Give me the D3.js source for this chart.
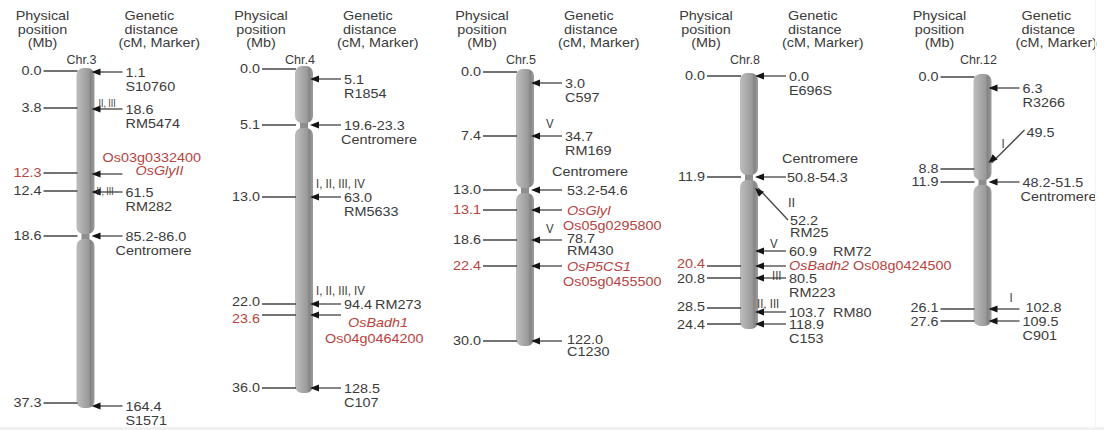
<!DOCTYPE html>
<html>
<head>
<meta charset="utf-8">
<script src="https://cdn.jsdelivr.net/npm/d3@7"></script>
<style>
  body { margin: 0; background: #ffffff; }
  svg { display: block; font-family: "Liberation Sans", Arial, Helvetica, sans-serif; }
</style>
</head>
<body>
<svg id="chart" width="1104" height="430"></svg>
<script>
// ---------------- data ----------------
const chromosomes = ["Chr.3", "Chr.4", "Chr.5", "Chr.8", "Chr.12"];

// physical positions (Mb) marked on the left of each chromosome
const chr3Mb  = [0.0, 3.8, 12.3, 12.4, 18.6, 37.3];
const chr4Mb  = [0.0, 5.1, 13.0, 22.0, 23.6, 36.0];
const chr5Mb  = [0.0, 7.4, 13.0, 13.1, 18.6, 22.4, 30.0];
const chr8Mb  = [0.0, 11.9, 20.4, 20.8, 28.5, 24.4];
const chr12Mb = [0.0, 8.8, 11.9, 26.1, 27.6];

// physical positions of the candidate genes
const chr3GeneMb  = [12.3];
const chr4GeneMb  = [23.6];
const chr5GeneMb  = [13.1, 22.4];
const chr8GeneMb  = [20.4];
const chr12GeneMb = [];

// genetic map loci on the right: distance (cM), marker, QTL, or candidate gene
const chr3Loci = [
  { cM: "1.1", marker: "S10760" },
  { cM: "18.6", marker: "RM5474", qtl: "II, III" },
  { gene: "OsGlyII", geneId: "Os03g0332400" },
  { cM: "61.5", marker: "RM282", qtl: "II, III" },
  { cM: "85.2-86.0", marker: "Centromere" },
  { cM: "164.4", marker: "S1571" }
];
const chr4Loci = [
  { cM: "5.1", marker: "R1854" },
  { cM: "19.6-23.3", marker: "Centromere" },
  { cM: "63.0", marker: "RM5633", qtl: "I, II, III, IV" },
  { cM: "94.4", marker: "RM273", qtl: "I, II, III, IV" },
  { gene: "OsBadh1", geneId: "Os04g0464200" },
  { cM: "128.5", marker: "C107" }
];
const chr5Loci = [
  { cM: "3.0", marker: "C597" },
  { cM: "34.7", marker: "RM169", qtl: "V" },
  { cM: "53.2-54.6", marker: "Centromere" },
  { gene: "OsGlyI", geneId: "Os05g0295800" },
  { cM: "78.7", marker: "RM430", qtl: "V" },
  { gene: "OsP5CS1", geneId: "Os05g0455500" },
  { cM: "122.0", marker: "C1230" }
];
const chr8Loci = [
  { cM: "0.0", marker: "E696S" },
  { cM: "50.8-54.3", marker: "Centromere" },
  { cM: "52.2", marker: "RM25", qtl: "II" },
  { cM: "60.9", marker: "RM72", qtl: "V" },
  { gene: "OsBadh2", geneId: "Os08g0424500" },
  { cM: "80.5", marker: "RM223", qtl: "III" },
  { cM: "103.7", marker: "RM80", qtl: "II, III" },
  { cM: "118.9", marker: "C153" }
];
const chr12Loci = [
  { cM: "6.3", marker: "R3266" },
  { cM: "49.5", qtl: "I" },
  { cM: "48.2-51.5", marker: "Centromere" },
  { cM: "102.8", qtl: "I" },
  { cM: "109.5", marker: "C901" }
];

const headerPhysical = ["Physical", "position", "(Mb)"];
const headerGenetic  = ["Genetic", "distance", "(cM, Marker)"];

// ---------------- layout ----------------
// the map is schematic: each row has its own drawing slot along the chromosome
const centreX = { "Chr.3": 85.5, "Chr.4": 304, "Chr.5": 525, "Chr.8": 749, "Chr.12": 982.5 };

const tickSlots = {
  "Chr.3":  [71, 108, 173, 191, 236, 403],
  "Chr.4":  [69, 125, 197, 304, 315, 388],
  "Chr.5":  [72, 136, 190, 210, 240, 266, 341],
  "Chr.8":  [76, 177, 266, 278, 308, 324],
  "Chr.12": [77, 169, 182, 309, 321]
};
// baseline shift of tick labels where neighbouring rows crowd each other
const tickLabelShift = {
  "Chr.3":  [4, 4, 4, 4, 4, 4],
  "Chr.4":  [4, 4, 4, 2, 8, 4],
  "Chr.5":  [4, 4, 4, 4, 4, 4, 4],
  "Chr.8":  [4, 4, 2, 5, 3, 5],
  "Chr.12": [4, 4, 4, 3, 5]
};
// label arrangement per locus: form, arrow slot, optional QTL offset/size, diagonal tail
const locusSlots = {
  "Chr.3": [
    { y: 72,  form: "stack" },
    { y: 109, form: "stack", qdx: 13, qdy: -2, qs: 11 },
    { y: 174, form: "geneAbove" },
    { y: 192, form: "stack", qdx: 11, qdy: 3, qs: 11 },
    { y: 236, form: "centBelow", cdx: -10 },
    { y: 406, form: "stack" }
  ],
  "Chr.4": [
    { y: 79,  form: "stack" },
    { y: 125, form: "centBelow", cdx: -3 },
    { y: 197, form: "stack", qdx: 12, qdy: -9 },
    { y: 304, form: "inline", gap: 31, qdx: 12, qdy: -9 },
    { y: 315, form: "geneBelow" },
    { y: 388, form: "stack" }
  ],
  "Chr.5": [
    { y: 83,  form: "stack" },
    { y: 136, form: "stack", qdx: 21, qdy: -8 },
    { y: 190, form: "centAbove", cdx: -13, rdx: 2 },
    { y: 210, form: "geneStack" },
    { y: 240, form: "stackTight", qdx: 21, qdy: -7 },
    { y: 266, form: "geneStack" },
    { y: 341, form: "stackTight" }
  ],
  "Chr.8": [
    { y: 76,  form: "stack" },
    { y: 177, form: "centAbove", cdx: -7, rdx: -2 },
    { y: 188, form: "diagStack", tx: 39, ty: 220 },
    { y: 251, form: "inline", gap: 44, qdx: 21, qdy: -3 },
    { y: 266, form: "geneInline" },
    { y: 278, form: "stack", qdx: 23, qdy: 2 },
    { y: 312, form: "inline", gap: 44, qdx: 8, qdy: -4 },
    { y: 324, form: "stack" }
  ],
  "Chr.12": [
    { y: 88,  form: "stack" },
    { y: 163, form: "diagSingle", tx: 42, ty: 130, qdx: 19, qdy: -15 },
    { y: 182, form: "centBelow", cdx: -2 },
    { y: 309, form: "single", qdx: 27, qdy: -7 },
    { y: 321, form: "stack" }
  ]
};

const mbByChr   = { "Chr.3": chr3Mb, "Chr.4": chr4Mb, "Chr.5": chr5Mb, "Chr.8": chr8Mb, "Chr.12": chr12Mb };
const geneByChr = { "Chr.3": chr3GeneMb, "Chr.4": chr4GeneMb, "Chr.5": chr5GeneMb, "Chr.8": chr8GeneMb, "Chr.12": chr12GeneMb };
const lociByChr = { "Chr.3": chr3Loci, "Chr.4": chr4Loci, "Chr.5": chr5Loci, "Chr.8": chr8Loci, "Chr.12": chr12Loci };

// ---------------- styles ----------------
const INK = "#3b3b3b";
const RED = "#b8433f";
const LINE = "#454545";
const FONT = 12;
const STRETCH = 1.2;
const BAR_W = 18;
const QTL_FONT = 13;

const svg = d3.select("#chart");

const defs = svg.append("defs");
const grad = defs.append("linearGradient").attr("id", "chromFill")
  .attr("x1", "0%").attr("x2", "100%").attr("y1", "0%").attr("y2", "0%");
[["0%", "#bdbdbd"], ["45%", "#a6a6a6"], ["68%", "#9a9a9a"], ["78%", "#848484"], ["100%", "#9c9c9c"]]
  .forEach(([o, c]) => grad.append("stop").attr("offset", o).attr("stop-color", c));

// text helper: glyphs are drawn a little wider than tall
function label(g, x, y, text, opt = {}) {
  return g.append("text")
    .attr("transform", `translate(${x},${y}) scale(${opt.sx || STRETCH},1)`)
    .attr("text-anchor", opt.anchor || "start")
    .attr("font-size", opt.size || FONT)
    .attr("font-style", opt.italic ? "italic" : "normal")
    .attr("fill", opt.red ? RED : INK)
    .text(text);
}

function arrowHead(g, x, y, angle) {
  g.append("path")
    .attr("d", "M0,0 L9,-3.6 L9,3.6 Z")
    .attr("transform", `translate(${x},${y}) rotate(${angle})`)
    .attr("fill", "#141414");
}

chromosomes.forEach(chr => {
  const cx = centreX[chr];
  const g = svg.append("g").attr("class", "panel");
  const mb = mbByChr[chr];
  const genes = geneByChr[chr];
  const loci = lociByChr[chr];
  const ticks = tickSlots[chr];
  const shifts = tickLabelShift[chr];
  const slots = locusSlots[chr];

  // headers
  headerPhysical.forEach((t, i) => label(g, cx - 43, 20 + i * 13.5, t, { anchor: "middle" }));
  headerGenetic.forEach((t, i) => label(g, cx + (i === 2 ? 33 : 39), 20 + i * 13.5, t));
  label(g, cx - 4, 64, chr, { anchor: "middle", sx: 1, size: 12.5 });

  // chromosome body: short and long arm split at the centromere
  const cenIdx = loci.findIndex(d => d.marker === "Centromere");
  const cenY = slots[cenIdx].y;
  const y = d3.scaleLinear().domain([0, 1]).range([ticks[0] - 3, d3.max(ticks) + 5]);
  g.append("rect").attr("x", cx - 4).attr("width", 8)
    .attr("y", cenY - 4).attr("height", 8).attr("fill", "#8e8e8e");
  [[y(0), cenY - 2], [cenY + 3, y(1)]].forEach(([a, b]) => {
    g.append("rect")
      .attr("x", cx - BAR_W / 2).attr("width", BAR_W)
      .attr("y", a).attr("height", b - a)
      .attr("rx", 7).attr("ry", 7)
      .attr("fill", "url(#chromFill)");
  });

  // physical positions
  mb.forEach((v, i) => {
    const ty = ticks[i];
    g.append("line")
      .attr("x1", cx - 42).attr("x2", cx - BAR_W / 2 + 1)
      .attr("y1", ty).attr("y2", ty)
      .attr("stroke", LINE).attr("stroke-width", 1.3);
    label(g, cx - 44, ty + shifts[i], d3.format(".1f")(v), { anchor: "end", red: genes.includes(v) });
  });

  // genetic loci
  loci.forEach((d, i) => {
    const s = slots[i];
    const ay = s.y;
    const tip = cx + 6;
    const lx = cx + 40;
    if (s.form.startsWith("diag")) {
      const ex = cx + s.tx, ey = s.ty;
      g.append("line").attr("x1", tip + 3).attr("y1", ay).attr("x2", ex).attr("y2", ey)
        .attr("stroke", LINE).attr("stroke-width", 1.3);
      const ang = Math.atan2(ey - ay, ex - tip) * 180 / Math.PI;
      arrowHead(g, tip, ay, ang);
    } else {
      g.append("line").attr("x1", tip + 4).attr("y1", ay).attr("x2", cx + 37).attr("y2", ay)
        .attr("stroke", LINE).attr("stroke-width", 1.3);
      arrowHead(g, tip, ay, 0);
    }

    switch (s.form) {
      case "stack":
        label(g, lx, ay + 5, d.cM);
        label(g, lx, ay + 19, d.marker);
        break;
      case "stackTight":
        label(g, lx + 2, ay + 3, d.cM);
        label(g, lx + 2, ay + 15, d.marker);
        break;
      case "inline":
        label(g, lx, ay + 5, d.cM);
        label(g, lx + s.gap, ay + 5, d.marker);
        break;
      case "single":
        label(g, lx + 3, ay + 3, d.cM);
        break;
      case "centBelow":
        label(g, lx, ay + 5, d.cM);
        label(g, lx + s.cdx, ay + 19, d.marker);
        break;
      case "centAbove":
        label(g, lx + s.cdx, ay - 14, d.marker);
        label(g, lx + s.rdx, ay + 5, d.cM);
        break;
      case "geneAbove":
        label(g, cx + 17, ay - 12, d.geneId, { red: true });
        label(g, cx + 50, ay + 1, d.gene, { red: true, italic: true });
        break;
      case "geneBelow":
        label(g, lx + 4, ay + 12, d.gene, { red: true, italic: true });
        label(g, lx - 19, ay + 28, d.geneId, { red: true });
        break;
      case "geneStack":
        label(g, lx + 2, ay + 5, d.gene, { red: true, italic: true });
        label(g, lx - 2, ay + 20, d.geneId, { red: true });
        break;
      case "geneInline":
        label(g, lx, ay + 4, d.gene, { red: true, italic: true });
        label(g, lx + 64, ay + 4, d.geneId, { red: true });
        break;
      case "diagStack":
        label(g, cx + s.tx, s.ty - 13, d.qtl, { sx: 1, size: QTL_FONT });
        label(g, cx + s.tx + 2, s.ty + 5, d.cM);
        label(g, cx + s.tx + 2, s.ty + 17, d.marker);
        break;
      case "diagSingle":
        label(g, cx + s.tx + 2, s.ty + 7, d.cM);
        break;
    }
    if (d.qtl && s.qdx !== undefined) {
      const small = s.qs !== undefined;
      label(g, cx + s.qdx, ay + s.qdy, d.qtl,
        { size: small ? s.qs : QTL_FONT, sx: small ? 0.8 : 0.88 });
    }
  });
});

// faint frame line along the lower and right edge of the figure
svg.append("rect").attr("x", 0).attr("y", 427).attr("width", 1104).attr("height", 3).attr("fill", "#f1f1f1");
svg.append("rect").attr("x", 1095).attr("y", 0).attr("width", 1).attr("height", 430).attr("fill", "#f3f3f3");
</script>
</body>
</html>
